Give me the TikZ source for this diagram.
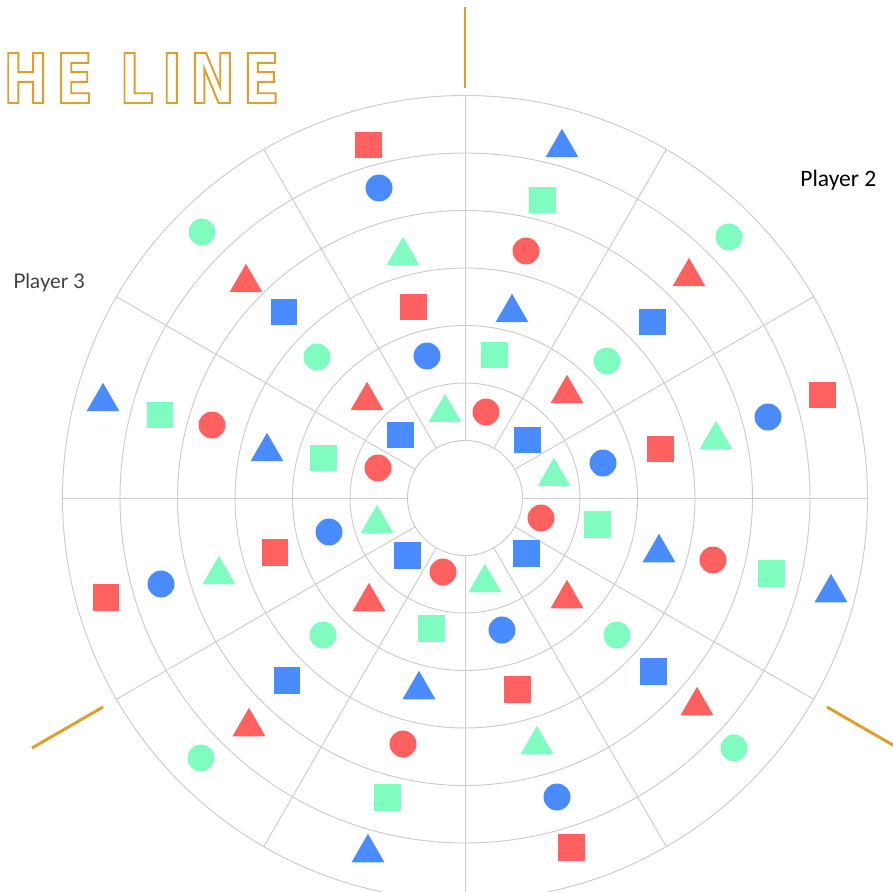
\documentclass[tikz,border=0pt]{standalone}
\usepackage{fontspec}
\usepackage{tikz}
\usetikzlibrary{shapes.geometric,calc}
\usepackage{xcolor}
\definecolor{shred}{RGB}{255,96,96}
\definecolor{shblue}{RGB}{74,140,255}
\definecolor{shgreen}{RGB}{128,252,192}
\definecolor{ringgray}{RGB}{204,204,204}
\definecolor{lineorange}{RGB}{220,160,48}
\newfontfamily\titlefont[FakeStretch=0.78,LetterSpace=12]{DejaVu Sans}
\newfontfamily\cardfont{Carlito}
\newfontfamily\latofont{Lato}
\newcommand{\outlineon}{\special{pdf:literal direct 1 Tr 1.1 w}}
\newcommand{\outlineoff}{\special{pdf:literal direct 0 Tr}}
\tikzset{
  ring/.style={draw=ringgray, line width=0.55pt},
  seam/.style={draw=lineorange, line width=1.7pt},
  sqbox/.style={rectangle, minimum size=0.54cm, inner sep=0pt},
  dot/.style={circle, minimum size=0.54cm, inner sep=0pt},
  tri/.style={regular polygon, regular polygon sides=3, minimum size=0.76cm, inner sep=0pt, yshift=-0.095cm}
}

\begin{document}
\begin{tikzpicture}[x=0.02cm, y=-0.02cm]
            \useasboundingbox (0,0) rectangle (893,892);
            \coordinate (c) at (465,498);

            % --- Rings ---
            \draw[ring] (c) circle[radius=57.5];
            \draw[ring] (c) circle[radius=115];
            \draw[ring] (c) circle[radius=172.5];
            \draw[ring] (c) circle[radius=230];
            \draw[ring] (c) circle[radius=287.5];
            \draw[ring] (c) circle[radius=345];
            \draw[ring] (c) circle[radius=402.5];

            % --- Spokes ---
            \draw[ring] ($(c)+(0:57.5)$) -- ($(c)+(0:402.5)$);
            \draw[ring] ($(c)+(30:57.5)$) -- ($(c)+(30:402.5)$);
            \draw[ring] ($(c)+(60:57.5)$) -- ($(c)+(60:402.5)$);
            \draw[ring] ($(c)+(90:57.5)$) -- ($(c)+(90:402.5)$);
            \draw[ring] ($(c)+(120:57.5)$) -- ($(c)+(120:402.5)$);
            \draw[ring] ($(c)+(150:57.5)$) -- ($(c)+(150:402.5)$);
            \draw[ring] ($(c)+(180:57.5)$) -- ($(c)+(180:402.5)$);
            \draw[ring] ($(c)+(210:57.5)$) -- ($(c)+(210:402.5)$);
            \draw[ring] ($(c)+(240:57.5)$) -- ($(c)+(240:402.5)$);
            \draw[ring] ($(c)+(270:57.5)$) -- ($(c)+(270:402.5)$);
            \draw[ring] ($(c)+(300:57.5)$) -- ($(c)+(300:402.5)$);
            \draw[ring] ($(c)+(330:57.5)$) -- ($(c)+(330:402.5)$);

            % --- Player borders ---
            \draw[seam] ($(c)+(270:410)$) -- ($(c)+(270:491)$);
            \draw[seam] ($(c)+(150:418)$) -- ($(c)+(150:500)$);
            \draw[seam] ($(c)+(30:418)$) -- ($(c)+(30:500)$);

            % --- Title and players ---
            \node[anchor=base west, inner sep=0pt, text=lineorange] (title) at (3,103)
                {\titlefont\bfseries\fontsize{39pt}{39pt}\selectfont\outlineon HE LINE\outlineoff};
            \node[anchor=base west, inner sep=0pt] (p2) at (800,187)
                {\cardfont\fontsize{13.4pt}{14pt}\selectfont Player 2};
            \node[anchor=base west, inner sep=0pt, text=black!75] (p3) at (13,288)
                {\latofont\fontsize{11.5pt}{13pt}\selectfont Player 3};

            % --- Sector 60-90 ---
            \node[dot, fill=shred] (a1) at (486,412) {};
            \node[sqbox, fill=shgreen] (a2) at (494,355) {};
            \node[tri, fill=shblue] (a3) at (512,308) {};
            \node[dot, fill=shred] (a4) at (526,251) {};
            \node[sqbox, fill=shgreen] (a5) at (542,200) {};
            \node[tri, fill=shblue] (a6) at (562,143) {};

            % --- Sector 30-60 ---
            \node[sqbox, fill=shblue] (b1) at (527,440) {};
            \node[tri, fill=shred] (b2) at (567,389) {};
            \node[dot, fill=shgreen] (b3) at (607,361) {};
            \node[sqbox, fill=shblue] (b4) at (652,322) {};
            \node[tri, fill=shred] (b5) at (689,272) {};
            \node[dot, fill=shgreen] (b6) at (729,237) {};

            % --- Sector 0-30 ---
            \node[tri, fill=shgreen] (c1) at (554,472) {};
            \node[dot, fill=shblue] (c2) at (603,463) {};
            \node[sqbox, fill=shred] (c3) at (660,449) {};
            \node[tri, fill=shgreen] (c4) at (716,435) {};
            \node[dot, fill=shblue] (c5) at (768,417) {};
            \node[sqbox, fill=shred] (c6) at (822,395) {};

            % --- Sector 330-360 ---
            \node[dot, fill=shred] (d1) at (541,518) {};
            \node[sqbox, fill=shgreen] (d2) at (597,524) {};
            \node[tri, fill=shblue] (d3) at (659,548) {};
            \node[dot, fill=shred] (d4) at (713,560) {};
            \node[sqbox, fill=shgreen] (d5) at (771,573) {};
            \node[tri, fill=shblue] (d6) at (831,588) {};

            % --- Sector 300-330 ---
            \node[sqbox, fill=shblue] (e1) at (526,553) {};
            \node[tri, fill=shred] (e2) at (567,594) {};
            \node[dot, fill=shgreen] (e3) at (617,635) {};
            \node[sqbox, fill=shblue] (e4) at (653,671) {};
            \node[tri, fill=shred] (e5) at (697,701) {};
            \node[dot, fill=shgreen] (e6) at (734,748) {};

            % --- Sector 270-300 ---
            \node[tri, fill=shgreen] (f1) at (485,578) {};
            \node[dot, fill=shblue] (f2) at (502,630) {};
            \node[sqbox, fill=shred] (f3) at (517,689) {};
            \node[tri, fill=shgreen] (f4) at (537,740) {};
            \node[dot, fill=shblue] (f5) at (557,797) {};
            \node[sqbox, fill=shred] (f6) at (571,847) {};

            % --- Sector 240-270 ---
            \node[dot, fill=shred] (g1) at (443,572) {};
            \node[sqbox, fill=shgreen] (g2) at (431,628) {};
            \node[tri, fill=shblue] (g3) at (419,685) {};
            \node[dot, fill=shred] (g4) at (403,744) {};
            \node[sqbox, fill=shgreen] (g5) at (387,797) {};
            \node[tri, fill=shblue] (g6) at (368,848) {};

            % --- Sector 210-240 ---
            \node[sqbox, fill=shblue] (h1) at (407,555) {};
            \node[tri, fill=shred] (h2) at (369,597) {};
            \node[dot, fill=shgreen] (h3) at (323,635) {};
            \node[sqbox, fill=shblue] (h4) at (287,680) {};
            \node[tri, fill=shred] (h5) at (249,722) {};
            \node[dot, fill=shgreen] (h6) at (201,758) {};

            % --- Sector 180-210 ---
            \node[tri, fill=shgreen] (i1) at (377,519) {};
            \node[dot, fill=shblue] (i2) at (329,532) {};
            \node[sqbox, fill=shred] (i3) at (275,552) {};
            \node[tri, fill=shgreen] (i4) at (219,570) {};
            \node[dot, fill=shblue] (i5) at (161,584) {};
            \node[sqbox, fill=shred] (i6) at (106,597) {};

            % --- Sector 150-180 ---
            \node[dot, fill=shred] (j1) at (378,468) {};
            \node[sqbox, fill=shgreen] (j2) at (323,458) {};
            \node[tri, fill=shblue] (j3) at (267,447) {};
            \node[dot, fill=shred] (j4) at (212,425) {};
            \node[sqbox, fill=shgreen] (j5) at (160,415) {};
            \node[tri, fill=shblue] (j6) at (103,397) {};

            % --- Sector 120-150 ---
            \node[sqbox, fill=shblue] (k1) at (400,435) {};
            \node[tri, fill=shred] (k2) at (367,396) {};
            \node[dot, fill=shgreen] (k3) at (317,357) {};
            \node[sqbox, fill=shblue] (k4) at (284,312) {};
            \node[tri, fill=shred] (k5) at (246,278) {};
            \node[dot, fill=shgreen] (k6) at (202,232) {};

            % --- Sector 90-120 ---
            \node[tri, fill=shgreen] (l1) at (445,408) {};
            \node[dot, fill=shblue] (l2) at (427,356) {};
            \node[sqbox, fill=shred] (l3) at (413,307) {};
            \node[tri, fill=shgreen] (l4) at (403,251) {};
            \node[dot, fill=shblue] (l5) at (379,188) {};
            \node[sqbox, fill=shred] (l6) at (368,145) {};
        \end{tikzpicture}
\end{document}
